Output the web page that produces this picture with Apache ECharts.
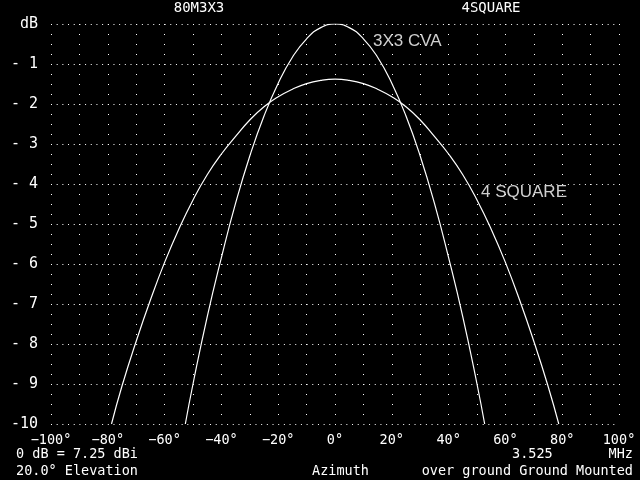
<!DOCTYPE html>
<html><head><meta charset="utf-8">
<script src="https://cdn.jsdelivr.net/npm/echarts@6/dist/echarts.min.js"></script>
<style>html,body{margin:0;padding:0;background:#000}#c{width:640px;height:480px}</style>
</head><body><div id="c"></div>
<script>
// ---- data ----
const cvaDeg = [-52.7, -50, -45, -40, -35, -30, -25, -20, -15, -10, -5, 0, 5, 10, 15, 20, 25, 30, 35, 40, 45, 50, 52.7];
const cvaDb  = [-10, -9.0, -7.32, -5.84, -4.48, -3.3, -2.3, -1.48, -0.83, -0.37, -0.09, 0, -0.09, -0.37, -0.83, -1.48, -2.3, -3.3, -4.48, -5.84, -7.32, -9.0, -10];
const sqDeg = [-78.7, -75, -70, -65, -60, -55, -50, -45, -40, -35, -30, -25, -20, -15, -10, -5, 0, 5, 10, 15, 20, 25, 30, 35, 40, 45, 50, 55, 60, 65, 70, 75, 78.8];
const sqDb  = [-10, -9.05, -7.93, -6.9, -5.96, -5.13, -4.4, -3.77, -3.25, -2.81, -2.4, -2.07, -1.82, -1.63, -1.49, -1.41, -1.38, -1.41, -1.49, -1.63, -1.82, -2.07, -2.4, -2.81, -3.25, -3.77, -4.4, -5.13, -5.96, -6.9, -7.93, -9.05, -10];
const seriesNames = ['3X3 CVA', '4 SQUARE'];
const xTickValues = [-100, -80, -60, -40, -20, 0, 20, 40, 60, 80, 100];
const xTickLabels = ['\u2212100°', '\u221280°', '\u221260°', '\u221240°', '\u221220°', '0°', '20°', '40°', '60°', '80°', '100°'];
const yTickValues = [0, -1, -2, -3, -4, -5, -6, -7, -8, -9, -10];
const yTickLabels = ['dB', '- 1', '- 2', '- 3', '- 4', '- 5', '- 6', '- 7', '- 8', '- 9', '-10'];

const mono = 'DejaVu Sans Mono';
const chart = echarts.init(document.getElementById('c'), null, {renderer: 'canvas'});
function txt(text, x, y, align, size, color) {
  return {type: 'text', x: x, y: y, silent: true, style: {text: text, fill: color || '#fff', font: (size || 13.5) + 'px "' + mono + '"', align: align || 'left', verticalAlign: 'middle'}};
}
chart.setOption({
  backgroundColor: '#000',
  animation: false,
  grid: {left: 51, top: 24, width: 568, height: 400, containLabel: false},
  xAxis: {
    type: 'value', min: -100, max: 100, interval: 10,
    axisLine: {show: false}, axisTick: {show: false},
    axisLabel: {color: '#fff', fontFamily: mono, fontSize: 13.5, margin: 9, hideOverlap: false, showMinLabel: true, showMaxLabel: true,
      formatter: v => { const i = xTickValues.indexOf(Math.round(v)); return i >= 0 ? xTickLabels[i] : ''; }},
    splitLine: {show: true, lineStyle: {color: '#ffffff', width: 1, type: [1, 9]}}
  },
  yAxis: {
    type: 'value', min: -10, max: 0, interval: 1,
    axisLine: {show: false}, axisTick: {show: false},
    axisLabel: {color: '#fff', fontFamily: mono, fontSize: 15, margin: 13,
      formatter: v => { const i = yTickValues.indexOf(Math.round(v)); return i >= 0 ? yTickLabels[i] : ''; }},
    splitLine: {show: true, lineStyle: {color: '#ffffff', width: 1, type: [1, 4.68]}}
  },
  series: [
    {name: seriesNames[0], type: 'line', showSymbol: false, symbol: 'none', smooth: 0.5, clip: true,
      lineStyle: {color: '#fff', width: 1.2}, data: cvaDeg.map((d, i) => [d, cvaDb[i]])},
    {name: seriesNames[1], type: 'line', showSymbol: false, symbol: 'none', smooth: 0.5, clip: true,
      lineStyle: {color: '#fff', width: 1.2}, data: sqDeg.map((d, i) => [d, sqDb[i]])}
  ],
  graphic: [
    txt('80M3X3', 199, 8, 'center', 14),
    txt('4SQUARE', 491, 8, 'center', 14),
    txt('0 dB = 7.25 dBi', 16, 454),
    txt('20.0° Elevation', 16, 471),
    txt('Azimuth', 312, 471),
    txt('over ground Ground Mounted', 633, 471, 'right'),
    txt('3.525', 512, 454),
    txt('MHz', 633, 454, 'right'),
    {type: 'text', x: 373, y: 41, silent: true, style: {text: seriesNames[0], fill: '#cfcfcf', font: '17px "Liberation Sans"', verticalAlign: 'middle'}},
    {type: 'text', x: 481, y: 192, silent: true, style: {text: seriesNames[1], fill: '#cfcfcf', font: '17px "Liberation Sans"', verticalAlign: 'middle'}}
  ]
});
</script>
</body></html>
